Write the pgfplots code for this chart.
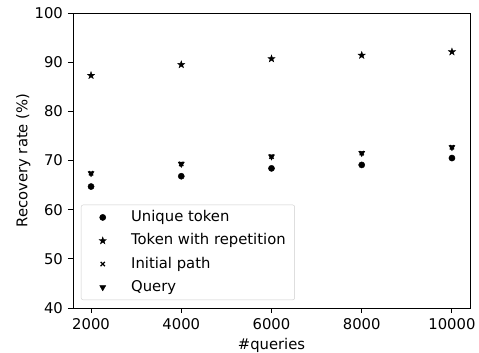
\documentclass[border=0pt]{standalone}
\usepackage{fontspec}
\setmainfont{DejaVu Sans}
\usepackage{pgfplots}
\pgfplotsset{compat=1.18}
\pgfdeclareplotmark{fstar}{%
  \pgfpathmoveto{\pgfpointpolar{90}{\pgfplotmarksize}}%
  \pgfpathlineto{\pgfpointpolar{126}{0.4\pgfplotmarksize}}%
  \pgfpathlineto{\pgfpointpolar{162}{\pgfplotmarksize}}%
  \pgfpathlineto{\pgfpointpolar{198}{0.4\pgfplotmarksize}}%
  \pgfpathlineto{\pgfpointpolar{234}{\pgfplotmarksize}}%
  \pgfpathlineto{\pgfpointpolar{270}{0.4\pgfplotmarksize}}%
  \pgfpathlineto{\pgfpointpolar{306}{\pgfplotmarksize}}%
  \pgfpathlineto{\pgfpointpolar{342}{0.4\pgfplotmarksize}}%
  \pgfpathlineto{\pgfpointpolar{18}{\pgfplotmarksize}}%
  \pgfpathlineto{\pgfpointpolar{54}{0.4\pgfplotmarksize}}%
  \pgfpathclose
  \pgfusepathqfillstroke}
\begin{document}
\fontsize{14.8pt}{17pt}\selectfont
\begin{tikzpicture}
\path[use as bounding box] (-73pt,-45pt) rectangle (406pt,308pt);
\begin{axis}[
  at={(0,0)}, anchor=south west,
  scale only axis, width=397pt, height=295pt,
  xmin=1600, xmax=10400, ymin=40, ymax=100,
  xtick={2000,4000,6000,8000,10000},
  ytick={40,50,60,70,80,90,100},
  /pgf/number format/assume math mode=true,
  /pgf/number format/1000 sep={},
  scaled x ticks=false,
  tick align=outside, tick pos=left,
  major tick length=5pt,
  every tick/.style={black, line width=0.9pt},
  axis line style={line width=0.9pt},
  tick label style={font=\fontsize{14.8pt}{17pt}\selectfont},
  xlabel={\#queries}, ylabel={Recovery rate (\%)},
  label style={font=\fontsize{14.8pt}{17pt}\selectfont},
  ylabel style={yshift=-6pt},
  xlabel style={yshift=1pt},
  legend cell align=left,
  legend image code/.code={\path[draw=none,fill=none] (0pt,0pt) -- (26pt,0pt); \draw[#1] plot coordinates {(12.6pt,0pt)};},
  legend style={at={(0.02,0.027)}, anchor=south west, draw=black!20, rounded corners=2pt,
    font=\fontsize{14.8pt}{17pt}\selectfont,
    nodes={inner sep=0pt, text height=11pt, text depth=3pt},
    row sep=9.3pt, inner xsep=9pt, inner ysep=5.5pt,
    /tikz/every odd column/.append style={column sep=15pt}},
]
\addplot[only marks, mark=*, mark size=3.1pt, black] coordinates {
(2000,64.7) (4000,66.8) (6000,68.4) (8000,69.1) (10000,70.5)};
\addlegendentry{Unique token}
\addplot[only marks, mark=fstar, mark size=3.9pt, black, line width=0.3pt] coordinates {
(2000,87.3) (4000,89.5) (6000,90.7) (8000,91.4) (10000,92.1)};
\addlegendentry{Token with repetition}
\addplot[only marks, mark=x, mark size=3pt, black, line width=1.2pt] coordinates {
(2000,67.4) (4000,69.3) (6000,70.8) (8000,71.5) (10000,72.7)};
\addlegendentry{Initial path}
\addplot[only marks, mark=triangle*, mark size=3.5pt, black, mark options={rotate=180}] coordinates {
(2000,67.4) (4000,69.3) (6000,70.8) (8000,71.5) (10000,72.7)};
\addlegendentry{Query}
\end{axis}
\end{tikzpicture}
\end{document}
